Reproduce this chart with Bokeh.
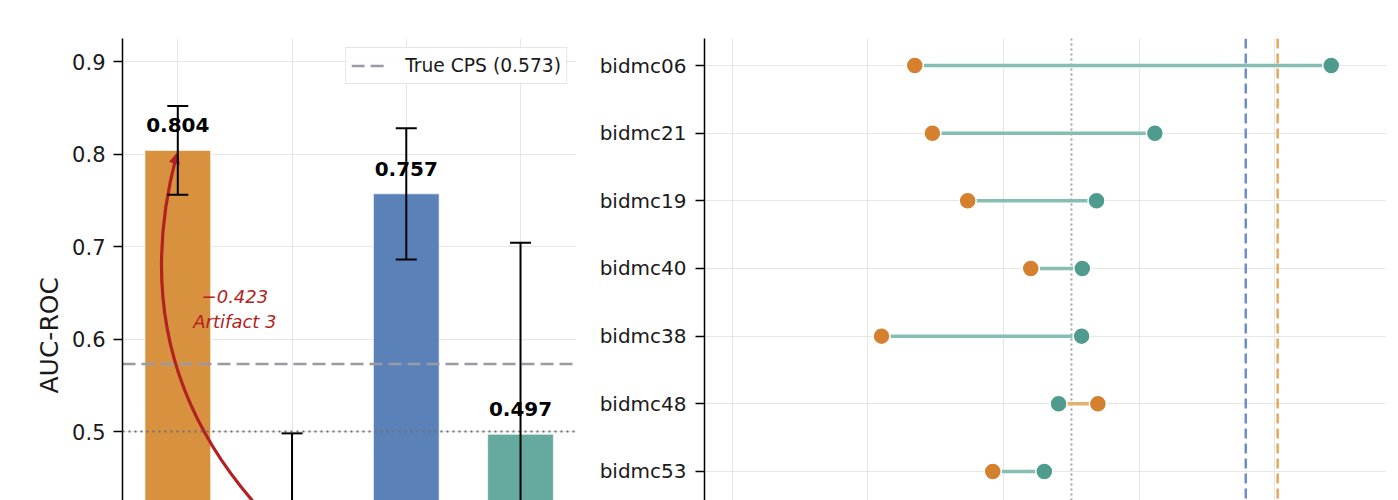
from bokeh.plotting import figure
from bokeh.models import (Range1d, FixedTicker, Span, Legend, LegendItem, Whisker,
                          TeeHead, ColumnDataSource, Arrow, NormalHead, Title)
from bokeh.layouts import row
from bokeh.embed import file_html
from bokeh.resources import INLINE
from bokeh.core.properties import value
import math

# ---------------- data ----------------
bar_pos = [0, 1, 2, 3]
bar_means = [0.804, 0.381, 0.757, 0.497]
bar_errs = [0.048, 0.117, 0.071, 0.207]
true_cps = 0.573
chance = 0.5
delta_label = "\u22120.423"
artifact_label = "Artifact 3"
y_ticks = [0.5, 0.6, 0.7, 0.8, 0.9]
y_title = "AUC-ROC"

records = ["bidmc06", "bidmc21", "bidmc19", "bidmc40", "bidmc38", "bidmc48", "bidmc53"]
orange_vals = [0.269, 0.295, 0.347, 0.440, 0.220, 0.539, 0.384]
teal_vals = [0.883, 0.623, 0.537, 0.516, 0.515, 0.481, 0.460]
mean_orange = 0.804
mean_blue = 0.757
x_ticks_right = [0.0, 0.2, 0.4, 0.6, 0.8]

# ---------------- style ----------------
FONT = "DejaVu Sans"
BAR_COLORS = ["#d8913f", "#7f7f7f", "#5a82b9", "#66a99e"]
RED = "#b22222"
GRID = "#e6e6e6"
ORANGE_DOT = "#d4802e"
TEAL_DOT = "#4f9b8d"
TEAL_LINE = "#86beb4"
ORANGE_LINE = "#e6b06e"
CPS_COLOR = "#9a9aa6"

# ---------------- left panel ----------------
W1, H = 590, 500
L1, R1, T = 122, 14, 38
x0r, x1r = -0.484, 3.49
y0r, y1r = 0.4254, 0.925

p1 = figure(width=W1, height=H, output_backend="svg", toolbar_location=None,
            x_range=Range1d(x0r, x1r), y_range=Range1d(y0r, y1r),
            min_border_left=L1, min_border_right=R1, min_border_top=T, min_border_bottom=0)
p1.outline_line_color = None
p1.xaxis.visible = False
p1.xgrid.ticker = FixedTicker(ticks=bar_pos)
p1.xgrid.grid_line_color = GRID
p1.ygrid.grid_line_color = GRID
ax = p1.yaxis[0]
ax.ticker = FixedTicker(ticks=y_ticks)
ax.minor_tick_line_color = None
ax.major_tick_in = 0
ax.major_tick_out = 9
ax.major_tick_line_width = 1.5
ax.axis_line_width = 1.5
ax.major_label_standoff = 8
ax.major_label_text_font = FONT
ax.major_label_text_font_size = "21px"
ax.major_label_text_color = "#1a1a1a"

# y-axis title, placed along the (partly hidden) full axis
p1.add_layout(Title(text=y_title, align="left", offset=107, standoff=12,
                    text_font=FONT, text_font_size="25px", text_font_style="normal",
                    text_color="#1a1a1a"), "left")

fw = 576 - L1
fh = H - T
sx = fw / (x1r - x0r)
sy = fh / (y1r - y0r)

def to_px(x, y):
    return ((x - x0r) * sx, (y - y0r) * sy)

def to_data(px, py):
    return (px / sx + x0r, py / sy + y0r)

src = ColumnDataSource(dict(
    x=bar_pos, top=bar_means, color=BAR_COLORS,
    upper=[m + e for m, e in zip(bar_means, bar_errs)],
    lower=[m - e for m, e in zip(bar_means, bar_errs)],
))
p1.vbar(x="x", top="top", bottom=0, width=0.575, fill_color="color",
        line_color="white", line_alpha=0.6, line_width=1, source=src)

# reference lines
p1.add_layout(Span(location=chance, dimension="width", line_color="#6e6e7a",
                   line_dash="2 4", line_width=1.8))
cps_line = p1.line(x=[x0r, x1r], y=[true_cps, true_cps], line_color=CPS_COLOR,
                   line_dash="13 6", line_width=2.5)

# curved arrow (arc between bar tops)
Sx, Sy = to_px(bar_pos[1], bar_means[1])
Ex, Ey = to_px(bar_pos[0], bar_means[0])
rad = -0.3
mx, my = (Sx + Ex) / 2, (Sy + Ey) / 2
dx, dy = Ex - Sx, Ey - Sy
Cx, Cy = mx + rad * dy, my - rad * dx
tx, ty = Ex - Cx, Ey - Cy
tl = math.hypot(tx, ty)
ux, uy = tx / tl, ty / tl
tipx, tipy = Ex - 3 * ux, Ey - 3 * uy
s_d = to_data(Sx, Sy)
c_d = to_data(Cx, Cy)
tip_d = to_data(tipx, tipy)
pre_d = to_data(tipx - 3 * ux, tipy - 3 * uy)
p1.quadratic(x0=[s_d[0]], y0=[s_d[1]], x1=[pre_d[0]], y1=[pre_d[1]],
             cx=[c_d[0]], cy=[c_d[1]], line_color=RED, line_width=3.2)
p1.add_layout(Arrow(end=NormalHead(size=10, fill_color=RED, line_color=RED, line_width=1),
                    x_start=pre_d[0], y_start=pre_d[1], x_end=tip_d[0], y_end=tip_d[1],
                    line_color=RED, line_width=3, level="overlay"))
p1.text(x=[(bar_pos[0] + bar_pos[1]) / 2], y=[(bar_means[0] + bar_means[1]) / 2 + 0.04],
        text=[f"{delta_label}\n{artifact_label}"], text_font=value(FONT),
        text_font_style="italic", text_font_size="18px", text_color=RED,
        text_align="center", text_baseline="middle", text_line_height=1.2)

# error bars
wh = Whisker(source=src, base="x", upper="upper", lower="lower", dimension="height",
             line_color="black", line_width=2, level="overlay",
             upper_head=TeeHead(size=21, line_color="black", line_width=2),
             lower_head=TeeHead(size=21, line_color="black", line_width=2))
p1.add_layout(wh)

# value labels (only those that fall inside the visible range)
lab_x, lab_y, lab_t = [], [], []
for xp, m in zip(bar_pos, bar_means):
    if m + 0.027 - 0.015 > y0r:
        lab_x.append(xp)
        lab_y.append(m + 0.027)
        lab_t.append(f"{m:.3f}")
p1.text(x=lab_x, y=lab_y, text=lab_t, text_font=value(FONT),
        text_font_style="bold", text_font_size="20px", text_color="black",
        text_align="center", text_baseline="middle")

# legend
leg = Legend(items=[LegendItem(label=f"True CPS ({true_cps:.3f})", renderers=[cps_line])],
             location="top_right")
leg.label_text_font = FONT
leg.label_text_font_size = "18.7px"
leg.label_text_color = "#1a1a1a"
leg.border_line_color = "#cccccc"
leg.border_line_width = 1.5
leg.background_fill_alpha = 0.85
leg.glyph_width = 37
leg.glyph_height = 25
leg.label_height = 25
leg.label_standoff = 17
leg.padding = 5
leg.margin = 9
p1.add_layout(leg)

# ---------------- right panel ----------------
W2 = 1398 - W1
L2, R2 = 114, 12
n = len(records)
ys = list(range(n))

p2 = figure(width=W2, height=H, output_backend="svg", toolbar_location=None,
            x_range=Range1d(-0.041, 0.9645), y_range=Range1d(6.43, -0.40),
            min_border_left=L2, min_border_right=R2, min_border_top=T, min_border_bottom=0)
p2.outline_line_color = None
p2.xaxis.visible = False
p2.xgrid.ticker = FixedTicker(ticks=x_ticks_right)
p2.xgrid.grid_line_color = GRID
p2.ygrid.grid_line_color = GRID
ay = p2.yaxis[0]
ay.ticker = FixedTicker(ticks=ys)
ay.major_label_overrides = {i: r for i, r in zip(ys, records)}
ay.minor_tick_line_color = None
ay.major_tick_in = 0
ay.major_tick_out = 9
ay.major_tick_line_width = 1.5
ay.axis_line_width = 1.5
ay.major_label_standoff = 9
ay.major_label_text_font = FONT
ay.major_label_text_font_size = "20px"
ay.major_label_text_color = "#1a1a1a"

p2.add_layout(Span(location=chance, dimension="height", line_color="#a0a0aa",
                   line_dash="2 3", line_width=2, level="underlay"))
p2.add_layout(Span(location=mean_blue, dimension="height", line_color="#6b8fcc",
                   line_dash="10 5", line_width=2.5, level="underlay"))
p2.add_layout(Span(location=mean_orange, dimension="height", line_color="#e6a85a",
                   line_dash="10 5", line_width=2.5, level="underlay"))

seg_colors = [TEAL_LINE if t >= o else ORANGE_LINE for o, t in zip(orange_vals, teal_vals)]
p2.segment(x0=orange_vals, y0=ys, x1=teal_vals, y1=ys, line_color=seg_colors, line_width=3.5)
p2.scatter(x=orange_vals, y=ys, size=17, fill_color=ORANGE_DOT, line_color="white", line_width=1.5)
p2.scatter(x=teal_vals, y=ys, size=17, fill_color=TEAL_DOT, line_color="white", line_width=1.5)

layout = row(p1, p2)
open("out.html", "w").write(file_html(layout, INLINE))
